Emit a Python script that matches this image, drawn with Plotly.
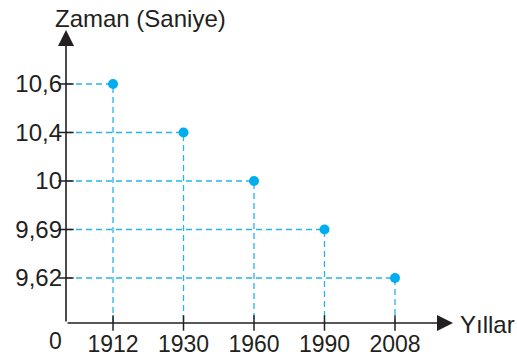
import plotly.graph_objects as go

# World record times for the 100 m sprint
years = ["1912", "1930", "1960", "1990", "2008"]
times = [10.6, 10.4, 10.0, 9.69, 9.62]
y_title = "Zaman (Saniye)"
x_title = "Yıllar"

# both axes are ordinal: years in order, times ranked from fastest up
time_labels = [f"{v:g}".replace(".", ",") for v in times]
xs = list(range(len(years)))
ranked = sorted(times)
ys = [ranked.index(v) for v in times]

X_RANGE = [-0.667, 4.823]
Y_RANGE = [-0.928, 5.113]

INK = "#231F20"
GUIDE = "#29B3EC"
DOT = "#00AEEF"
FONT = "Liberation Sans, Arial, sans-serif"

W, H = 517, 358
M = dict(l=66, r=64, t=30, b=35, pad=0)

# dashed guides from each point back to both axes
gx, gy = [], []
for x, y in zip(xs, ys):
    gx += [X_RANGE[0], x, x, None]
    gy += [y, y, Y_RANGE[0], None]

fig = go.Figure()
fig.add_trace(go.Scatter(
    x=gx, y=gy, mode="lines",
    line=dict(color=GUIDE, width=1.3, dash="6px,4px"),
    hoverinfo="skip", showlegend=False,
))
# tick marks crossing the axes
fig.add_trace(go.Scatter(
    x=xs, y=[Y_RANGE[0]] * len(xs), mode="markers",
    marker=dict(symbol="line-ns", size=11, line=dict(color=INK, width=1.5)),
    cliponaxis=False, hoverinfo="skip", showlegend=False,
))
fig.add_trace(go.Scatter(
    x=[X_RANGE[0]] * len(ys), y=ys, mode="markers",
    marker=dict(symbol="line-ew", size=11, line=dict(color=INK, width=1.5)),
    cliponaxis=False, hoverinfo="skip", showlegend=False,
))
fig.add_trace(go.Scatter(
    x=xs, y=ys, mode="markers",
    marker=dict(color=DOT, size=10, line=dict(width=0)),
    customdata=times, hovertemplate="%{customdata}<extra></extra>",
    cliponaxis=False, showlegend=False,
))

fig.update_xaxes(
    range=X_RANGE, tickvals=xs, ticktext=years, ticks="", automargin=False,
    showline=False, showgrid=False, zeroline=False,
    tickfont=dict(family=FONT, size=23, color=INK), ticklabelstandoff=5,
)
fig.update_yaxes(
    range=Y_RANGE, tickvals=ys, ticktext=time_labels, ticks="", automargin=False,
    showline=False, showgrid=False, zeroline=False,
    tickfont=dict(family=FONT, size=24, color=INK), ticklabelstandoff=3,
)

plot_w = W - M["l"] - M["r"]
plot_h = H - M["t"] - M["b"]

annotations = [
    # x axis with arrow
    dict(x=1, y=0, xref="paper", yref="paper", ax=-plot_w, ay=0,
         showarrow=True, arrowhead=2, arrowsize=2.0, arrowwidth=1.6,
         arrowcolor=INK, standoff=0, text=""),
    # y axis with arrow
    dict(x=0, y=1, xref="paper", yref="paper", ax=0, ay=plot_h,
         showarrow=True, arrowhead=2, arrowsize=2.0, arrowwidth=1.6,
         arrowcolor=INK, standoff=0, text=""),
    dict(x=0, y=1, xref="paper", yref="paper", xshift=-13, yshift=12,
         xanchor="left", yanchor="middle", showarrow=False, text=y_title,
         font=dict(family=FONT, size=24, color=INK)),
    dict(x=1, y=0, xref="paper", yref="paper", xshift=5, yshift=-1,
         xanchor="left", yanchor="middle", showarrow=False, text=x_title,
         font=dict(family=FONT, size=24, color=INK)),
    dict(x=0, y=0, xref="paper", yref="paper", xshift=-2, yshift=-3,
         xanchor="right", yanchor="top", showarrow=False, text="0",
         font=dict(family=FONT, size=23, color=INK)),
]

fig.update_layout(
    width=W, height=H, margin=M,
    paper_bgcolor="white", plot_bgcolor="white",
    annotations=annotations,
)

fig.write_html("out.html")
